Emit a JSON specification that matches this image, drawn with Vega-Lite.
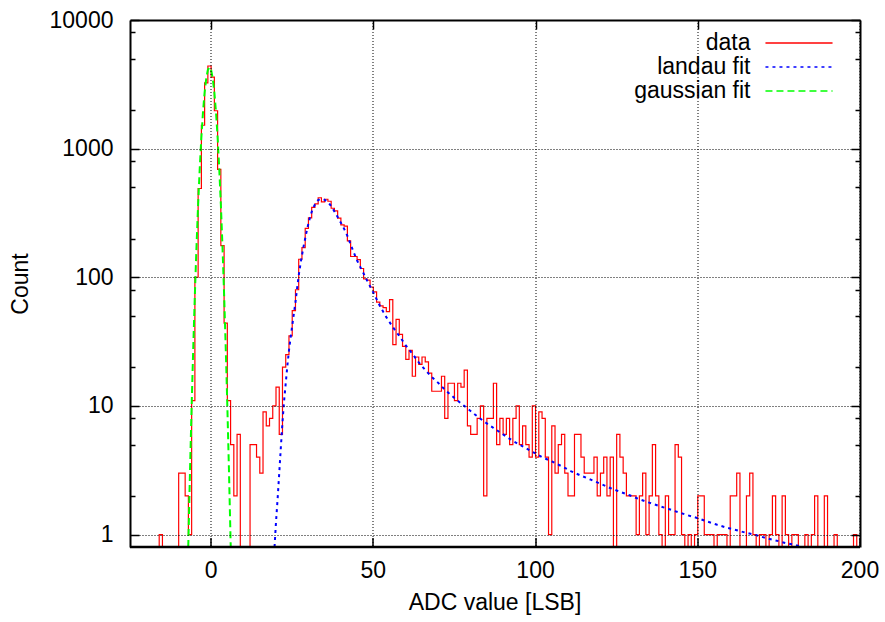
{
  "$schema": "https://vega.github.io/schema/vega-lite/v6.json",
  "width": 730,
  "height": 527,
  "autosize": "none",
  "padding": {"left": 130, "top": 20, "right": 25, "bottom": 75},
  "config": {
    "view": {"stroke": null},
    "font": "Liberation Sans",
    "axis": {
      "labelFont": "Liberation Sans", "titleFont": "Liberation Sans",
      "labelFontSize": 23, "titleFontSize": 23, "titleFontWeight": "normal",
      "labelColor": "#000000", "titleColor": "#000000",
      "tickColor": "#000000", "domainColor": "#000000", "domainWidth": 2,
      "tickWidth": 1.5, "gridColor": "#000000", "gridDash": [1, 2], "gridWidth": 1, "gridOpacity": 1,
      "labelOverlap": false, "labelBound": false, "labelFlush": false, "zindex": 1
    },
    "legend": {
      "labelFont": "Liberation Sans", "labelFontSize": 23, "labelColor": "#000000",
      "orient": "none", "legendX": 657, "legendY": 11,
      "symbolType": "M-3,0H3", "symbolSize": 500, "symbolStrokeWidth": 1.5,
      "labelAlign": "right", "labelOffset": -60.5, "padding": 0, "rowPadding": -3
    }
  },
  "datasets": {
    "hist": [
      {"x": -25, "y": 0}, {"x": -24, "y": 0}, {"x": -23, "y": 0}, {"x": -22, "y": 0}, {"x": -21, "y": 0},
      {"x": -20, "y": 0}, {"x": -19, "y": 0}, {"x": -18, "y": 0}, {"x": -17, "y": 0}, {"x": -16, "y": 1},
      {"x": -15, "y": 0}, {"x": -14, "y": 0}, {"x": -13, "y": 0}, {"x": -12, "y": 0}, {"x": -11, "y": 0},
      {"x": -10, "y": 3}, {"x": -9, "y": 3}, {"x": -8, "y": 2}, {"x": -7, "y": 1}, {"x": -6, "y": 11},
      {"x": -5, "y": 100}, {"x": -4, "y": 490}, {"x": -3, "y": 1520}, {"x": -2, "y": 3250}, {"x": -1, "y": 4390},
      {"x": 0, "y": 3600}, {"x": 1, "y": 1970}, {"x": 2, "y": 690}, {"x": 3, "y": 176}, {"x": 4, "y": 44},
      {"x": 5, "y": 11}, {"x": 6, "y": 5}, {"x": 7, "y": 2}, {"x": 8, "y": 6}, {"x": 9, "y": 0},
      {"x": 10, "y": 0}, {"x": 11, "y": 0}, {"x": 12, "y": 5}, {"x": 13, "y": 5}, {"x": 14, "y": 4},
      {"x": 15, "y": 3}, {"x": 16, "y": 9}, {"x": 17, "y": 7}, {"x": 18, "y": 8}, {"x": 19, "y": 10},
      {"x": 20, "y": 14}, {"x": 21, "y": 6}, {"x": 22, "y": 20}, {"x": 23, "y": 25}, {"x": 24, "y": 35},
      {"x": 25, "y": 55}, {"x": 26, "y": 80}, {"x": 27, "y": 138}, {"x": 28, "y": 170}, {"x": 29, "y": 240},
      {"x": 30, "y": 290}, {"x": 31, "y": 350}, {"x": 32, "y": 372}, {"x": 33, "y": 415}, {"x": 34, "y": 386},
      {"x": 35, "y": 404}, {"x": 36, "y": 390}, {"x": 37, "y": 344}, {"x": 38, "y": 328}, {"x": 39, "y": 288},
      {"x": 40, "y": 255}, {"x": 41, "y": 250}, {"x": 42, "y": 192}, {"x": 43, "y": 145}, {"x": 44, "y": 145},
      {"x": 45, "y": 137}, {"x": 46, "y": 117}, {"x": 47, "y": 97}, {"x": 48, "y": 95}, {"x": 49, "y": 84},
      {"x": 50, "y": 77}, {"x": 51, "y": 64}, {"x": 52, "y": 60}, {"x": 53, "y": 58}, {"x": 54, "y": 54},
      {"x": 55, "y": 67}, {"x": 56, "y": 30}, {"x": 57, "y": 47}, {"x": 58, "y": 36}, {"x": 59, "y": 29},
      {"x": 60, "y": 23}, {"x": 61, "y": 27}, {"x": 62, "y": 17}, {"x": 63, "y": 24}, {"x": 64, "y": 21},
      {"x": 65, "y": 24}, {"x": 66, "y": 22}, {"x": 67, "y": 18}, {"x": 68, "y": 13}, {"x": 69, "y": 13},
      {"x": 70, "y": 13}, {"x": 71, "y": 17}, {"x": 72, "y": 8}, {"x": 73, "y": 15}, {"x": 74, "y": 15},
      {"x": 75, "y": 11}, {"x": 76, "y": 15}, {"x": 77, "y": 14}, {"x": 78, "y": 19}, {"x": 79, "y": 7},
      {"x": 80, "y": 6}, {"x": 81, "y": 6}, {"x": 82, "y": 8}, {"x": 83, "y": 10}, {"x": 84, "y": 2},
      {"x": 85, "y": 8}, {"x": 86, "y": 8}, {"x": 87, "y": 15}, {"x": 88, "y": 5}, {"x": 89, "y": 8},
      {"x": 90, "y": 6}, {"x": 91, "y": 8}, {"x": 92, "y": 5}, {"x": 93, "y": 8}, {"x": 94, "y": 10},
      {"x": 95, "y": 5}, {"x": 96, "y": 7}, {"x": 97, "y": 5}, {"x": 98, "y": 4}, {"x": 99, "y": 10},
      {"x": 100, "y": 4}, {"x": 101, "y": 9}, {"x": 102, "y": 8}, {"x": 103, "y": 4}, {"x": 104, "y": 1},
      {"x": 105, "y": 7}, {"x": 106, "y": 3}, {"x": 107, "y": 5}, {"x": 108, "y": 6}, {"x": 109, "y": 3},
      {"x": 110, "y": 2}, {"x": 111, "y": 2}, {"x": 112, "y": 6}, {"x": 113, "y": 6}, {"x": 114, "y": 4},
      {"x": 115, "y": 3}, {"x": 116, "y": 3}, {"x": 117, "y": 3}, {"x": 118, "y": 4}, {"x": 119, "y": 2},
      {"x": 120, "y": 3}, {"x": 121, "y": 4}, {"x": 122, "y": 2}, {"x": 123, "y": 4}, {"x": 124, "y": 0},
      {"x": 125, "y": 6}, {"x": 126, "y": 4}, {"x": 127, "y": 3}, {"x": 128, "y": 2}, {"x": 129, "y": 2},
      {"x": 130, "y": 2}, {"x": 131, "y": 1}, {"x": 132, "y": 2}, {"x": 133, "y": 3}, {"x": 134, "y": 1},
      {"x": 135, "y": 2}, {"x": 136, "y": 5}, {"x": 137, "y": 2}, {"x": 138, "y": 1}, {"x": 139, "y": 0},
      {"x": 140, "y": 2}, {"x": 141, "y": 1}, {"x": 142, "y": 1}, {"x": 143, "y": 5}, {"x": 144, "y": 4},
      {"x": 145, "y": 1}, {"x": 146, "y": 0}, {"x": 147, "y": 1}, {"x": 148, "y": 0}, {"x": 149, "y": 1},
      {"x": 150, "y": 2}, {"x": 151, "y": 2}, {"x": 152, "y": 1}, {"x": 153, "y": 1}, {"x": 154, "y": 1},
      {"x": 155, "y": 0}, {"x": 156, "y": 1}, {"x": 157, "y": 1}, {"x": 158, "y": 1}, {"x": 159, "y": 0},
      {"x": 160, "y": 2}, {"x": 161, "y": 2}, {"x": 162, "y": 3}, {"x": 163, "y": 0}, {"x": 164, "y": 0},
      {"x": 165, "y": 2}, {"x": 166, "y": 3}, {"x": 167, "y": 1}, {"x": 168, "y": 0}, {"x": 169, "y": 1},
      {"x": 170, "y": 1}, {"x": 171, "y": 0}, {"x": 172, "y": 1}, {"x": 173, "y": 2}, {"x": 174, "y": 1},
      {"x": 175, "y": 0}, {"x": 176, "y": 2}, {"x": 177, "y": 1}, {"x": 178, "y": 0}, {"x": 179, "y": 1},
      {"x": 180, "y": 1}, {"x": 181, "y": 0}, {"x": 182, "y": 0}, {"x": 183, "y": 1}, {"x": 184, "y": 0},
      {"x": 185, "y": 1}, {"x": 186, "y": 2}, {"x": 187, "y": 0}, {"x": 188, "y": 0}, {"x": 189, "y": 2},
      {"x": 190, "y": 0}, {"x": 191, "y": 0}, {"x": 192, "y": 1}, {"x": 193, "y": 0}, {"x": 194, "y": 0},
      {"x": 195, "y": 0}, {"x": 196, "y": 0}, {"x": 197, "y": 0}, {"x": 198, "y": 1}, {"x": 199, "y": 0},
      {"x": 200, "y": 0}
    ],
    "landau": [
      {"x": 19.55, "y": 0.8}, {"x": 20.0, "y": 1.25}, {"x": 20.5, "y": 1.9}, {"x": 21.0, "y": 3.0},
      {"x": 21.5, "y": 4.8}, {"x": 22.0, "y": 7.5}, {"x": 22.5, "y": 11}, {"x": 23.0, "y": 15},
      {"x": 23.5, "y": 20.5}, {"x": 24.0, "y": 27}, {"x": 24.5, "y": 34}, {"x": 25.0, "y": 42},
      {"x": 25.5, "y": 52}, {"x": 26.0, "y": 64}, {"x": 26.5, "y": 82}, {"x": 27.0, "y": 103},
      {"x": 27.5, "y": 125}, {"x": 28.0, "y": 148}, {"x": 28.5, "y": 174}, {"x": 29.0, "y": 200},
      {"x": 29.5, "y": 231}, {"x": 30.0, "y": 262}, {"x": 30.5, "y": 293}, {"x": 31.0, "y": 322},
      {"x": 31.5, "y": 347}, {"x": 32.0, "y": 368}, {"x": 32.5, "y": 385}, {"x": 33.0, "y": 398},
      {"x": 33.5, "y": 404}, {"x": 34.0, "y": 407}, {"x": 34.5, "y": 405}, {"x": 35.0, "y": 400},
      {"x": 35.5, "y": 392}, {"x": 36.0, "y": 383}, {"x": 36.5, "y": 371}, {"x": 37.0, "y": 358},
      {"x": 38.0, "y": 325}, {"x": 39.0, "y": 294}, {"x": 40.0, "y": 265}, {"x": 41.0, "y": 238},
      {"x": 42.0, "y": 210}, {"x": 43.0, "y": 180}, {"x": 44.0, "y": 155}, {"x": 45.0, "y": 135},
      {"x": 46.0, "y": 120}, {"x": 47.0, "y": 107}, {"x": 48.0, "y": 95}, {"x": 49.0, "y": 85},
      {"x": 50.0, "y": 76}, {"x": 52.0, "y": 60}, {"x": 54.0, "y": 49}, {"x": 56.0, "y": 41},
      {"x": 58.0, "y": 35}, {"x": 60.0, "y": 29.5}, {"x": 62.0, "y": 25.5}, {"x": 64.0, "y": 21.8},
      {"x": 66.0, "y": 19}, {"x": 68.0, "y": 16.8}, {"x": 70.0, "y": 15.1}, {"x": 72.0, "y": 13.4},
      {"x": 75.0, "y": 11.5}, {"x": 78.0, "y": 10.0}, {"x": 81.0, "y": 8.7}, {"x": 84.0, "y": 7.6},
      {"x": 87.0, "y": 6.75}, {"x": 90.0, "y": 6.0}, {"x": 93.0, "y": 5.35}, {"x": 96.0, "y": 4.85},
      {"x": 99.0, "y": 4.4}, {"x": 102.0, "y": 4.0}, {"x": 105.0, "y": 3.7}, {"x": 108.0, "y": 3.4},
      {"x": 111.0, "y": 3.1}, {"x": 114.0, "y": 2.87}, {"x": 117.0, "y": 2.67}, {"x": 120.0, "y": 2.48},
      {"x": 123.0, "y": 2.3}, {"x": 126.0, "y": 2.15}, {"x": 129.0, "y": 2.02}, {"x": 132.0, "y": 1.88},
      {"x": 135.0, "y": 1.77}, {"x": 138.0, "y": 1.67}, {"x": 141.0, "y": 1.58}, {"x": 144.0, "y": 1.49},
      {"x": 147.0, "y": 1.41}, {"x": 150.0, "y": 1.34}, {"x": 153.0, "y": 1.26}, {"x": 156.0, "y": 1.19},
      {"x": 159.0, "y": 1.13}, {"x": 162.0, "y": 1.08}, {"x": 165.0, "y": 1.03}, {"x": 168.0, "y": 0.99},
      {"x": 171.0, "y": 0.94}, {"x": 174.0, "y": 0.9}, {"x": 177.0, "y": 0.86}, {"x": 180.0, "y": 0.83},
      {"x": 181.5, "y": 0.81}
    ],
    "gauss": [
      {"x": -7.05, "y": 0.8}, {"x": -7.0, "y": 0.9}, {"x": -6.5, "y": 3.16}, {"x": -6.0, "y": 10.0},
      {"x": -5.5, "y": 28.7}, {"x": -5.0, "y": 74.3}, {"x": -4.5, "y": 174}, {"x": -4.0, "y": 369},
      {"x": -3.5, "y": 708}, {"x": -3.0, "y": 1229}, {"x": -2.5, "y": 1929}, {"x": -2.0, "y": 2740},
      {"x": -1.5, "y": 3519}, {"x": -1.0, "y": 4090}, {"x": -0.5, "y": 4300}, {"x": 0.0, "y": 4090},
      {"x": 0.5, "y": 3519}, {"x": 1.0, "y": 2740}, {"x": 1.5, "y": 1929}, {"x": 2.0, "y": 1229},
      {"x": 2.5, "y": 708}, {"x": 3.0, "y": 369}, {"x": 3.5, "y": 174}, {"x": 4.0, "y": 74.3},
      {"x": 4.5, "y": 28.7}, {"x": 5.0, "y": 10.0}, {"x": 5.5, "y": 3.16}, {"x": 6.0, "y": 0.9},
      {"x": 6.05, "y": 0.8}
    ]
  },
  "layer": [
    {
      "data": {"name": "hist"},
      "mark": {"type": "line", "interpolate": "step-after", "strokeWidth": 1.2, "clip": true},
      "encoding": {
        "x": {
          "field": "x", "type": "quantitative",
          "scale": {"type": "linear", "domain": [-25, 200], "nice": false, "zero": false},
          "axis": {
            "orient": "bottom", "title": "ADC value [LSB]", "values": [0, 50, 100, 150, 200],
            "tickSize": -9, "labelPadding": 22, "titlePadding": 9, "grid": true, "domain": true,
            "zindex": 2, "translate": 0, "domainWidth": 2.5
          }
        },
        "y": {
          "field": "y", "type": "quantitative",
          "scale": {"type": "log", "domain": [0.8, 10000], "nice": false, "clamp": true},
          "axis": {
            "orient": "left", "title": "Count", "format": "d",
            "values": [1, 2, 5, 8, 10, 20, 50, 80, 100, 200, 500, 800, 1000, 2000, 5000, 8000, 10000],
            "labelExpr": "indexof([1, 10, 100, 1000, 10000], datum.value) >= 0 ? datum.label : ''",
            "tickSize": {"condition": {"test": "indexof([1, 10, 100, 1000, 10000], datum.value) >= 0", "value": -9}, "value": -5},
            "gridOpacity": {"condition": {"test": "indexof([1, 10, 100, 1000], datum.value) >= 0", "value": 1}, "value": 0},
            "labelPadding": 26, "titlePadding": 17, "grid": true, "domain": true, "zindex": 2
          }
        },
        "color": {
          "datum": "data", "type": "nominal",
          "scale": {"domain": ["data", "landau fit", "gaussian fit"], "range": ["#ff0000", "#0000ff", "#00ff00"]},
          "legend": {"title": null, "rowPadding": -3}
        },
        "strokeDash": {
          "datum": "data", "type": "nominal",
          "scale": {"domain": ["data", "landau fit", "gaussian fit"], "range": [[1, 0], [3, 4], [7, 4]]},
          "legend": {"title": null, "rowPadding": -3}
        }
      }
    },
    {
      "data": {"name": "landau"},
      "mark": {"type": "line", "strokeWidth": 2, "clip": true},
      "encoding": {
        "x": {
          "field": "x", "type": "quantitative",
          "axis": {
            "orient": "top", "title": null, "labels": false, "values": [0, 50, 100, 150],
            "tickSize": -9, "grid": false, "domain": true, "zindex": 2
          }
        },
        "y": {
          "field": "y", "type": "quantitative",
          "axis": {
            "orient": "right", "title": null, "labels": false,
            "values": [1, 2, 5, 8, 10, 20, 50, 80, 100, 200, 500, 800, 1000, 2000, 5000, 8000, 10000],
            "tickSize": {"condition": {"test": "indexof([1, 10, 100, 1000, 10000], datum.value) >= 0", "value": -9}, "value": -5},
            "grid": false, "domain": true, "zindex": 2
          }
        },
        "color": {"datum": "landau fit", "type": "nominal"},
        "strokeDash": {"datum": "landau fit", "type": "nominal"}
      }
    },
    {
      "data": {"name": "gauss"},
      "mark": {"type": "line", "strokeWidth": 2, "clip": true},
      "encoding": {
        "x": {"field": "x", "type": "quantitative", "axis": null},
        "y": {"field": "y", "type": "quantitative", "axis": null},
        "color": {"datum": "gaussian fit", "type": "nominal"},
        "strokeDash": {"datum": "gaussian fit", "type": "nominal"}
      }
    }
  ],
  "resolve": {"axis": {"x": "independent", "y": "independent"}}
}
